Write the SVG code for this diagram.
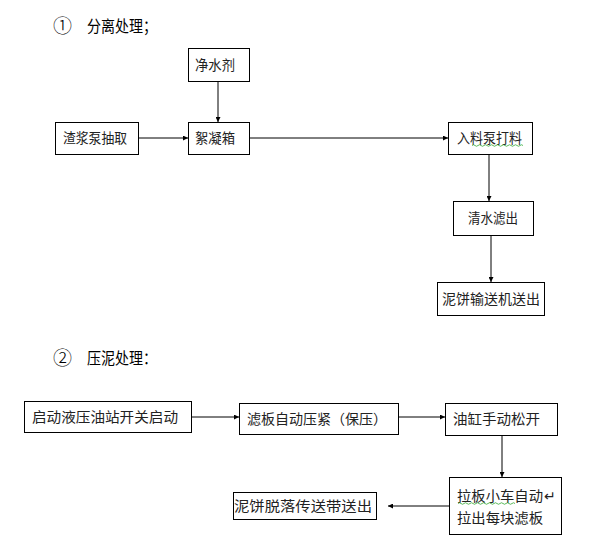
<svg xmlns="http://www.w3.org/2000/svg" width="606" height="557" viewBox="0 0 606 557">
<defs>
<style>
.b{fill:#fff;stroke:#000;stroke-width:1}
.t{font-family:"Liberation Serif","Noto Sans CJK SC",serif;font-size:14px;fill:#222}
.h{font-family:"Liberation Sans","Noto Sans CJK SC",sans-serif;font-size:16px;fill:#000}
.n{font-family:"Noto Sans CJK SC",sans-serif;font-size:19px;font-weight:300;fill:#000}
.c{stroke:#000;stroke-width:1;fill:none}
.w{stroke:#3a3;stroke-width:0.8;fill:none}
</style>
<marker id="a" viewBox="0 0 6 6" refX="6" refY="3" markerWidth="5" markerHeight="5" orient="auto" markerUnits="userSpaceOnUse"><path d="M0,0 L6,3 L0,6 z" fill="#000"/></marker>
</defs>
<rect width="606" height="557" fill="#fff"/>
<g id="title1"><text class="n" x="53" y="33">①</text><text class="h" x="87" y="32" textLength="70" lengthAdjust="spacingAndGlyphs">分离处理；</text></g>
<g id="title2"><text class="n" x="53" y="365">②</text><text class="h" x="87" y="364" textLength="70" lengthAdjust="spacingAndGlyphs">压泥处理：</text></g>

<g id="connectors">
<line class="c" x1="218" y1="81" x2="218" y2="122" marker-end="url(#a)"/>
<line class="c" x1="138" y1="138" x2="188" y2="138" marker-end="url(#a)"/>
<line class="c" x1="249" y1="138" x2="448" y2="138" marker-end="url(#a)"/>
<line class="c" x1="489" y1="154" x2="489" y2="201" marker-end="url(#a)"/>
<line class="c" x1="491" y1="235" x2="491" y2="282" marker-end="url(#a)"/>
<line class="c" x1="191" y1="417" x2="239" y2="417" marker-end="url(#a)"/>
<line class="c" x1="398" y1="417" x2="445" y2="417" marker-end="url(#a)"/>
<line class="c" x1="502" y1="435" x2="502" y2="477" marker-end="url(#a)"/>
<line class="c" x1="449" y1="506" x2="388" y2="506" marker-end="url(#a)"/>
</g>

<g id="n_jingshuiji"><rect class="b" x="188.5" y="48.5" width="61" height="33"/><text class="t" x="195" y="70" textLength="40" lengthAdjust="spacingAndGlyphs">净水剂</text></g>
<g id="n_zhajiang"><rect class="b" x="55.5" y="122.5" width="83" height="32"/><text class="t" x="63" y="143" textLength="64" lengthAdjust="spacingAndGlyphs">渣浆泵抽取</text></g>
<g id="n_xuning"><rect class="b" x="188.5" y="122.5" width="61" height="32"/><text class="t" x="195" y="143" textLength="40" lengthAdjust="spacingAndGlyphs">絮凝箱</text></g>
<g id="n_ruliao"><rect class="b" x="448.5" y="122.5" width="84" height="32"/><text class="t" x="457" y="143" textLength="65" lengthAdjust="spacingAndGlyphs">入料泵打料</text><path class="w" d="M472,145.5 q1.5,-1.5 3,0 t3,0 t3,0 t3,0 t3,0 t3,0 t3,0 t3,0 t3,0 t3,0 t3,0 t3,0 t3,0 t3,0 t3,0 t3,0 t3,0"/></g>
<g id="n_qingshui"><rect class="b" x="453.5" y="201.5" width="80" height="34"/><text class="t" x="468" y="223" textLength="50" lengthAdjust="spacingAndGlyphs">清水滤出</text></g>
<g id="n_nibing1"><rect class="b" x="437.5" y="282.5" width="107" height="33"/><text class="t" x="442" y="304" textLength="98" lengthAdjust="spacingAndGlyphs">泥饼输送机送出</text></g>

<g id="n_qidong"><rect class="b" x="24.5" y="401.5" width="167" height="31"/><text class="t" x="32" y="422" textLength="146" lengthAdjust="spacingAndGlyphs">启动液压油站开关启动</text></g>
<g id="n_lvban"><rect class="b" x="239.5" y="403.5" width="159" height="31"/><text class="t" x="247" y="424" textLength="140" lengthAdjust="spacingAndGlyphs">滤板自动压紧（保压）</text></g>
<g id="n_yougang"><rect class="b" x="445.5" y="403.5" width="112" height="32"/><text class="t" x="453" y="424" textLength="87" lengthAdjust="spacingAndGlyphs">油缸手动松开</text></g>
<g id="n_laban"><rect class="b" x="449.5" y="477.5" width="112" height="57"/><text class="t" x="457" y="501" textLength="86" lengthAdjust="spacingAndGlyphs">拉板小车自动</text><text class="t" x="544" y="501" font-size="9">↵</text><path class="w" d="M458,503.5 q1.5,-1.5 3,0 t3,0 t3,0 t3,0 t3,0 t3,0 t3,0 t3,0 t3,0 t3,0 t3,0 t3,0 t3,0 t3,0 t3,0 t3,0 t3,0 t3,0 t3,0"/><text class="t" x="457" y="523" textLength="86" lengthAdjust="spacingAndGlyphs">拉出每块滤板</text></g>
<g id="n_nibing2"><rect class="b" x="233.5" y="492.5" width="143" height="27"/><text class="t" x="234" y="511" textLength="138" lengthAdjust="spacingAndGlyphs">泥饼脱落传送带送出</text></g>
</svg>
